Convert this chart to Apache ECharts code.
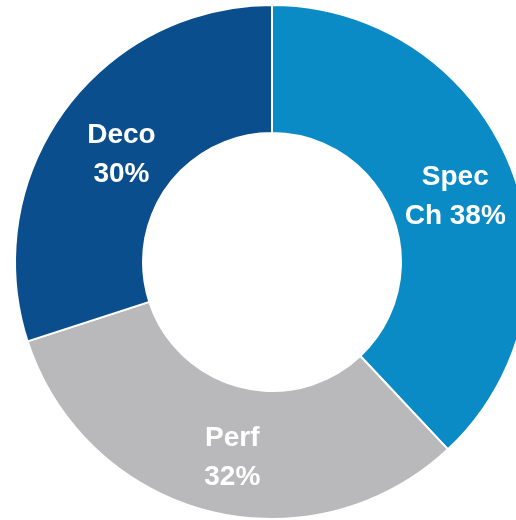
<!DOCTYPE html>
<html>
<head>
<meta charset="utf-8">
<script src="https://cdn.jsdelivr.net/npm/echarts@6/dist/echarts.min.js"></script>
<style>
  html, body { margin: 0; padding: 0; background: #ffffff; }
  #chart { width: 516px; height: 520px; }
</style>
</head>
<body>
<div id="chart"></div>
<script>
// Share of segments, drawn clockwise from 12 o'clock
const categories = ['Spec Ch', 'Perf', 'Deco'];
const shares = [38, 32, 30];
const colors = ['#0a8bc6', '#b9b9bb', '#0b4e8e'];
// small per-label nudges [dx, dy] in px
const labelNudge = [[1, 7], [9, 6], [8, 8]];

const chart = echarts.init(document.getElementById('chart'));

chart.setOption({
  animation: false,
  series: [{
    type: 'pie',
    center: [272, 262],
    radius: [129, 257],
    startAngle: 90,
    clockwise: true,
    data: categories.map((name, i) => ({
      name: name,
      value: shares[i],
      itemStyle: { color: colors[i] }
    })),
    itemStyle: { borderColor: '#ffffff', borderWidth: 2 },
    label: {
      show: true,
      position: 'inside',
      color: '#ffffff',
      fontFamily: '"Liberation Sans", Arial, sans-serif',
      fontWeight: 'bold',
      fontSize: 28,
      lineHeight: 39,
      align: 'center',
      formatter: (p) => {
        const words = p.name.split(' ');
        const first = words[0];
        const rest = words.slice(1).concat(p.value + '%').join(' ');
        return first + '\n' + rest;
      }
    },
    labelLayout: (params) => {
      const n = labelNudge[params.dataIndex] || [0, 0];
      return { dx: n[0], dy: n[1] };
    },
    labelLine: { show: false },
    emphasis: { disabled: true }
  }]
});
</script>
</body>
</html>
